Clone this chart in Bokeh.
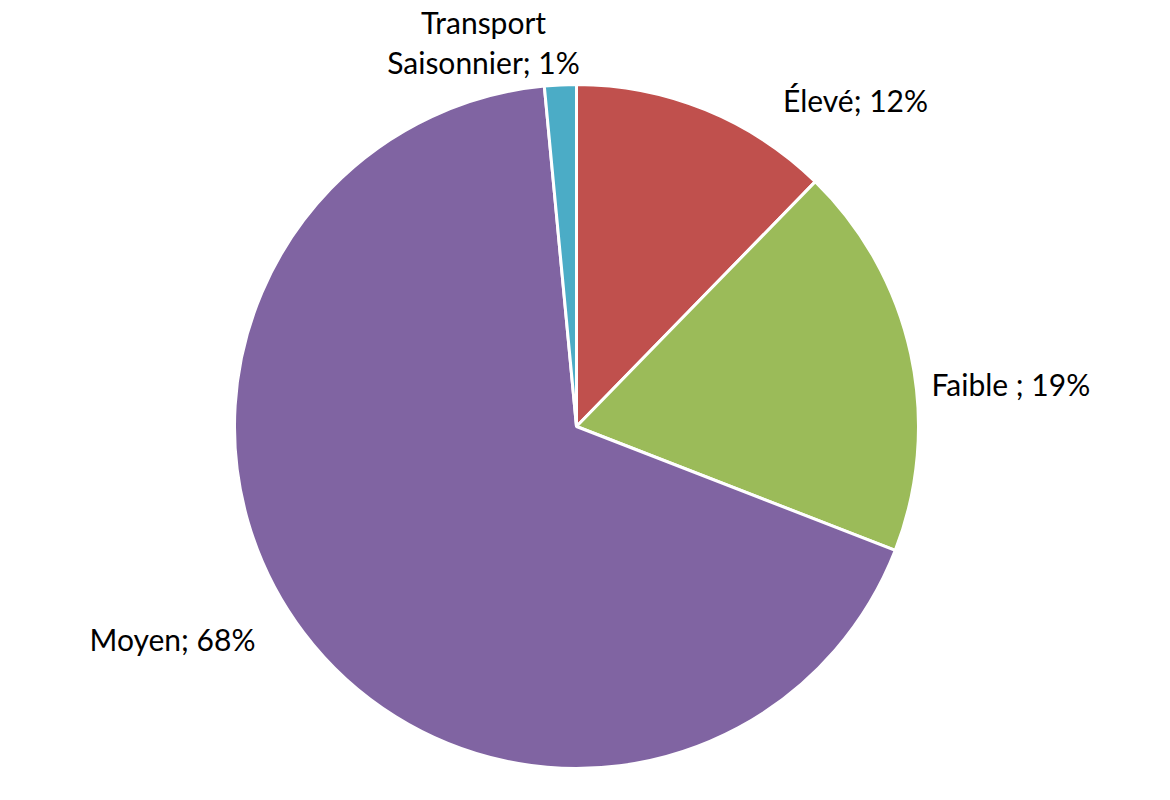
import math
from bokeh.plotting import figure
from bokeh.models import Range1d, ColumnDataSource
from bokeh.core.properties import value
from bokeh.embed import file_html
from bokeh.resources import INLINE

# Data (clockwise from the top)
categories = ["Élevé", "Faible", "Moyen", "Transport Saisonnier"]
values = [12.3, 18.6, 67.6, 1.5]
labels = ["Élevé; 12%", "Faible ; 19%", "Moyen; 68%", "Transport\nSaisonnier; 1%"]
colors = ["#C0504D", "#9BBB59", "#8064A2", "#4BACC6"]

# Layout (screen pixel coordinates)
W, H = 1154, 784
cx, cy_screen, R = 576, 426, 342
label_pos = [(855, 99, "center"), (931, 383, "left"), (172, 638, "center"), (483, 61, "center")]

def sy(y):
    return H - y

total = sum(values)
starts, ends = [], []
acc = 0.0
for v in values:
    a0 = math.pi / 2 - 2 * math.pi * acc / total
    acc += v
    a1 = math.pi / 2 - 2 * math.pi * acc / total
    starts.append(a0)
    ends.append(a1)

src = ColumnDataSource(dict(cat=categories, val=values, start=starts, end=ends, color=colors))

p = figure(width=W, height=H, output_backend="svg", toolbar_location=None,
           x_range=Range1d(0, W), y_range=Range1d(0, H),
           min_border=0, outline_line_color=None)
p.axis.visible = False
p.grid.visible = False
p.background_fill_color = "white"

p.wedge(x=cx, y=sy(cy_screen), radius=R, start_angle="start", end_angle="end",
        direction="clock", fill_color="color", line_color="white", line_width=3, source=src)

font = value("Lato")
for (lx, ly, align), txt in zip(label_pos, labels):
    lines = txt.split("\n")
    n = len(lines)
    for i, line in enumerate(lines):
        yy = ly - (n - 1 - i) * 40
        p.text(x=[lx], y=[sy(yy)], text=[line], text_font=font, text_font_size="30px",
               text_align=align, text_baseline="alphabetic", text_color="black")

open("out.html", "w").write(file_html(p, INLINE))
